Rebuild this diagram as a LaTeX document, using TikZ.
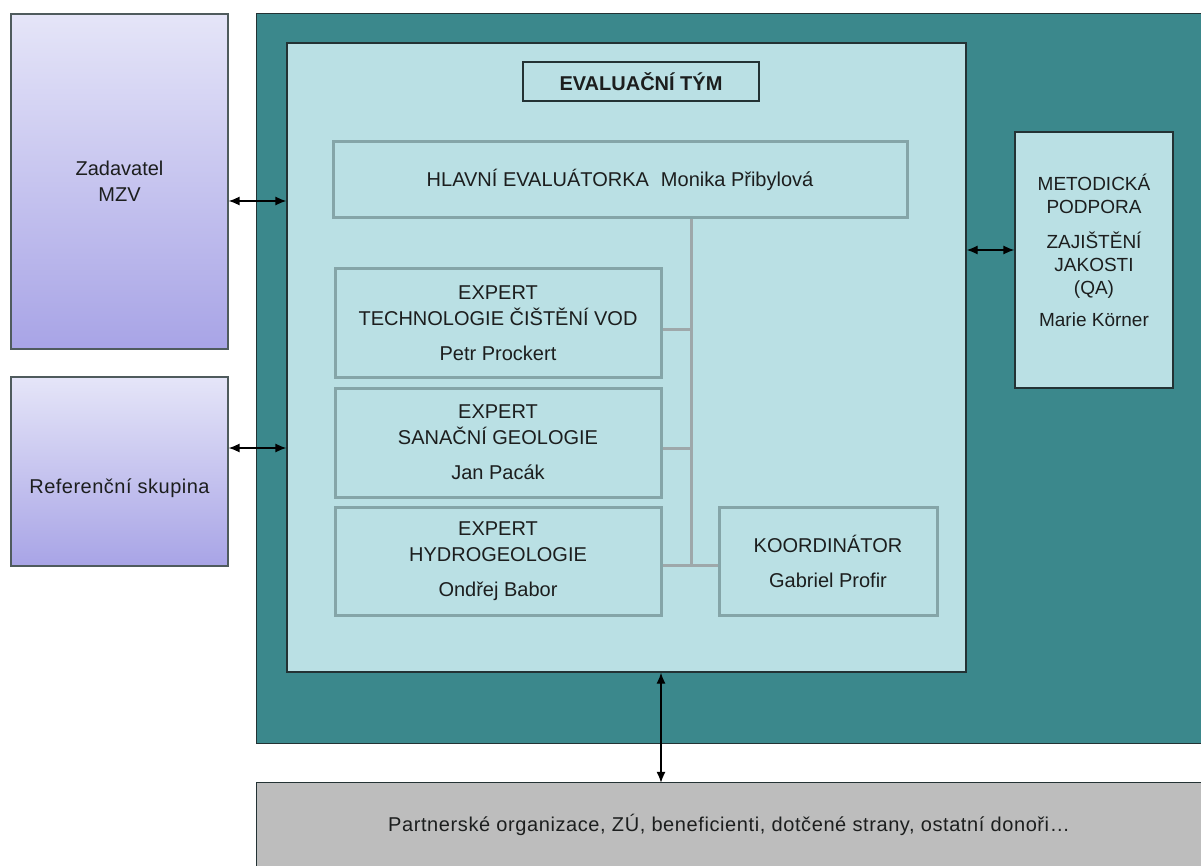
\documentclass[tikz,border=0pt]{standalone}
\usepackage{fontspec}
\setmainfont{Liberation Sans}
\usetikzlibrary{arrows.meta}

\definecolor{tealbg}{RGB}{59,136,140}
\definecolor{panelbg}{RGB}{186,224,228}
\definecolor{subline}{RGB}{133,165,168}
\definecolor{connline}{RGB}{158,168,170}
\definecolor{lavtop}{RGB}{229,229,248}
\definecolor{lavbot}{RGB}{168,164,230}
\definecolor{greyband}{RGB}{189,189,189}
\definecolor{edge}{RGB}{35,50,52}
\definecolor{ink}{RGB}{28,30,30}

\tikzset{
  txt/.style={font=\fontsize{20}{26}\selectfont, text=ink, align=center, inner sep=0pt},
  sized/.style 2 args={minimum width=#1, minimum height=#2, inner sep=0pt},
  lavbox/.style={draw=edge!80, line width=1.2pt, top color=lavtop, bottom color=lavbot, txt},
  panelbox/.style={draw=edge, line width=1.3pt, fill=panelbg},
  subbox/.style={draw=subline, line width=3pt, fill=panelbg, txt},
  conn/.style={draw=connline, line width=3pt},
  biarrow/.style={draw=black, line width=1.3pt, {Latex[length=11pt,width=9pt]}-{Latex[length=11pt,width=9pt]}},
}

\begin{document}
\begin{tikzpicture}[x=1pt,y=-1pt]
\useasboundingbox (0,0) rectangle (1201,866);
\fill[white] (0,0) rectangle (1201,866);

% client side
\node[lavbox, sized={217pt}{335pt}] (zad) at (119.5,181.5) {Zadavatel\\MZV};
\node[lavbox, sized={217pt}{189pt}] (ref) at (119.5,471.5) {};
\node[txt, font=\fontsize{20}{26}\selectfont\addfontfeatures{LetterSpace=2.5}] (reftext) at (119.5,488) {Referenční skupina};

% team area (runs off the right edge)
\node[fill=tealbg, sized={944pt}{729pt}] (team) at (729,378.5) {};
\draw[edge, line width=1.3pt] (team.north east) -- (team.north west) -- (team.south west) -- (team.south east);

\node[panelbox, sized={679pt}{629pt}] (panel) at (626.5,357.5) {};
\node[draw=edge, line width=1.3pt, fill=panelbg, sized={236pt}{39pt}, txt, font=\bfseries\fontsize{20}{24}\selectfont] (title) at (641,81.5) {EVALUAČNÍ TÝM};

\node[subbox, sized={574pt}{76pt}] (hl) at (620,180) {HLAVNÍ EVALUÁTORKA\hspace{0.6em}Monika Přibylová};

\node[subbox, sized={326pt}{108pt}] (e1) at (498,323) {EXPERT\\TECHNOLOGIE ČIŠTĚNÍ VOD\\[9pt]Petr Prockert};
\node[subbox, sized={326pt}{109pt}] (e2) at (498,442.5) {EXPERT\\SANAČNÍ GEOLOGIE\\[9pt]Jan Pacák};
\node[subbox, sized={326pt}{108pt}] (e3) at (498,561) {EXPERT\\HYDROGEOLOGIE\\[9pt]Ondřej Babor};
\node[subbox, sized={218pt}{108pt}] (ko) at (828,561) {KOORDINÁTOR\\[9pt]Gabriel Profir};

% org chart connectors
\coordinate (trunk) at (691,566);
\draw[conn] (hl.south -| trunk) -- (trunk);
\draw[conn] ([yshift=-6pt]e1.east) -- ([yshift=-6pt]e1.east -| trunk);
\draw[conn] ([yshift=-5.5pt]e2.east) -- ([yshift=-5.5pt]e2.east -| trunk);
\draw[conn] ([yshift=-4.5pt]e3.east) -- ([yshift=-4.5pt]e3.east -| ko.west);

% methodology support
\node[draw=edge, line width=1.3pt, fill=panelbg, sized={158pt}{256pt}] (met) at (1094,260) {};
\node[txt, font=\fontsize{19}{23}\selectfont] (mettext) at (1094,250) {METODICKÁ\\PODPORA\\[12pt]ZAJIŠTĚNÍ\\JAKOSTI\\(QA)\\[9pt]Marie Körner};

% stakeholders band (runs off the bottom and right edges)
\node[fill=greyband, sized={944pt}{84pt}, txt, font=\fontsize{20}{26}\selectfont\addfontfeatures{LetterSpace=3}] (band) at (729,825) {Partnerské organizace, ZÚ, beneficienti, dotčené strany, ostatní donoři…};
\draw[edge, line width=1.3pt] (band.south west) -- (band.north west) -- (band.north east);

% two-way links
\draw[biarrow] ([yshift=-19.5pt]zad.east) -- ([yshift=-19.5pt]zad.east -| panel.west);
\draw[biarrow] ([yshift=23.5pt]ref.east) -- ([yshift=23.5pt]ref.east -| panel.west);
\draw[biarrow] ([yshift=10pt]met.west) -- ([yshift=10pt]met.west -| panel.east);
\draw[biarrow] ([xshift=34.5pt]panel.south) -- ([xshift=34.5pt]panel.south |- band.north);
\end{tikzpicture}
\end{document}
